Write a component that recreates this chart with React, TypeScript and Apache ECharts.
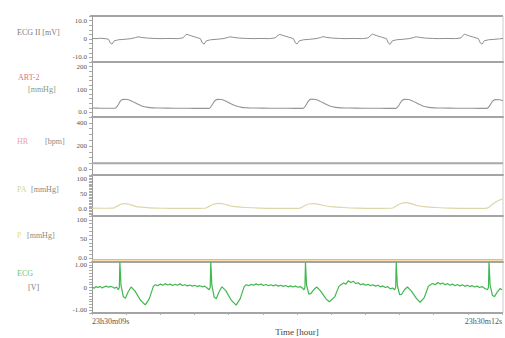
import React, { useEffect, useRef } from "react";
import * as echarts from "echarts";

// ---------- text ----------
const xStartLabel = "23h30m09s";
const xEndLabel = "23h30m12s";
const xAxisTitle = "Time [hour]";

// ---------- tick labels per channel ----------
const ecg2TickValues = [10, 0, -10];
const ecg2TickLabels = ["10.0", "0", "-10.0"];
const artTickValues = [200, 100, 0];
const artTickLabels = ["200", "100", "0.0"];
const hrTickValues = [400, 200, 0];
const hrTickLabels = ["400", "200", "0.0"];
const paTickValues = [100, 50, 0];
const paTickLabels = ["100", "50", "0.0"];
const pTickValues = [100, 50, 0];
const pTickLabels = ["100", "50", "0.0"];
const ecgTickValues = [1, 0, -1];
const ecgTickLabels = ["1.00", "0", "-1.00"];

// ---------- series (time in ms after 23h30m09s, value) ----------
const ecg2Values: [number, number][] = [
  [0, 0.3], [30, 0.2], [60, 0.4], [95, 0.2], [120, -0.1], [134, -2.2], [146, -2.8], [162, -1.0], [194, -0.4],
  [234, -0.2], [284, 0.2], [319, 0.8], [336, 1.2], [359, 0.9], [404, 0.5], [454, 0.3], [504, 0.2], [554, 0.3],
  [624, 0.2], [664, 0.6], [681, 2.0], [693, 2.6], [716, 1.9], [756, 1.0], [791, 0.2], [806, -2.2], [818, -2.8],
  [834, -1.0], [866, -0.4], [906, -0.2], [956, 0.2], [991, 0.8], [1008, 1.2], [1031, 0.9], [1076, 0.5], [1126, 0.3],
  [1176, 0.2], [1226, 0.3], [1296, 0.2], [1336, 0.6], [1358, 2.0], [1370, 2.5], [1395, 1.9], [1435, 1.0], [1470, 0.2],
  [1485, -2.2], [1497, -2.7], [1513, -1.0], [1545, -0.4], [1585, -0.2], [1635, 0.2], [1670, 0.8], [1687, 1.3],
  [1710, 0.9], [1755, 0.5], [1805, 0.3], [1855, 0.2], [1905, 0.3], [1975, 0.2], [2015, 0.6], [2037, 2.1], [2049, 2.7],
  [2074, 1.9], [2114, 1.0], [2149, 0.2], [2164, -2.3], [2176, -2.9], [2192, -1.0], [2224, -0.4], [2264, -0.2],
  [2314, 0.2], [2349, 0.8], [2366, 1.2], [2389, 0.9], [2434, 0.5], [2484, 0.3], [2534, 0.2], [2584, 0.3], [2654, 0.2],
  [2694, 0.6], [2708, 2.0], [2720, 2.6], [2745, 1.9], [2785, 1.0], [2820, 0.2], [2835, -2.2], [2847, -2.8],
  [2863, -1.0], [2895, -0.4], [2935, -0.2], [2975, 0.1], [3000, 0.3],
];

const artValues: [number, number][] = [
  [0, 19], [60, 18.5], [120, 18], [168, 18], [188, 30], [208, 50], [228, 57], [258, 56], [288, 50], [328, 38],
  [368, 27], [408, 22], [448, 20], [498, 19], [600, 18.5], [700, 18], [800, 17.5], [854, 17.5], [874, 30], [894, 49],
  [914, 57], [944, 56], [974, 50], [1014, 38], [1054, 28], [1094, 22], [1134, 20], [1184, 19], [1300, 18.5],
  [1420, 18], [1540, 17.5], [1560, 30], [1580, 50], [1600, 58], [1630, 56], [1660, 50], [1700, 38], [1740, 27],
  [1780, 22], [1820, 20], [1870, 19], [1980, 18.5], [2100, 18], [2219, 17.5], [2239, 30], [2259, 49], [2279, 57],
  [2309, 56], [2339, 50], [2379, 38], [2419, 27], [2459, 22], [2499, 20], [2549, 19], [2660, 18.5], [2780, 18],
  [2883, 17.5], [2903, 30], [2923, 48], [2943, 56], [2973, 55], [3000, 51],
];

const hrValues: [number, number][] = [
  [0, 52], [3000, 52],
];

const paValues: [number, number][] = [
  [0, 2], [80, 1.5], [153, 2], [180, 8], [210, 15], [240, 17], [270, 15], [310, 9], [360, 5], [420, 3], [520, 1.5],
  [640, 1], [760, 1], [825, 1.5], [855, 8], [885, 15], [930, 18], [965, 16], [1005, 10], [1060, 6], [1120, 4],
  [1220, 2], [1350, 1], [1450, 1], [1518, 2], [1548, 9], [1578, 16], [1620, 17], [1655, 15], [1700, 10], [1760, 6],
  [1830, 4], [1930, 2], [2060, 1], [2190, 1.5], [2220, 9], [2250, 17], [2290, 21], [2330, 17], [2380, 10], [2440, 6],
  [2510, 4], [2610, 2], [2760, 1], [2883, 2], [2920, 14], [2960, 26], [3000, 34],
];

const pValues: [number, number][] = [
  [0, -4], [3000, -4],
];

const ecgValues: [number, number][] = [
  [0, 0.02], [15, -0.03], [30, 0.04], [45, 0.0], [60, 0.05], [75, -0.02], [90, 0.03], [105, 0.06], [120, 0.01],
  [135, 0.05], [150, 0.02], [165, -0.03], [180, 0.02], [192, -0.1], [200, 0.0], [204, 1.12], [212, 0.1], [229, -0.4],
  [244, -0.48], [264, -0.2], [286, 0.02], [314, -0.15], [354, -0.55], [389, -0.77], [419, -0.5], [449, 0.05],
  [464, 0.12], [482, 0.08], [500, 0.15], [518, 0.1], [536, 0.17], [554, 0.11], [572, 0.15], [590, 0.09], [608, 0.14],
  [626, 0.1], [644, 0.16], [662, 0.09], [680, 0.12], [698, 0.07], [716, 0.11], [734, 0.06], [752, 0.1], [770, 0.04],
  [788, 0.08], [806, 0.03], [824, 0.06], [842, -0.02], [857, -0.1], [865, 0.0], [869, 1.12], [877, 0.1],
  [894, -0.42], [909, -0.5], [929, -0.2], [951, 0.03], [979, -0.14], [1019, -0.56], [1054, -0.78], [1084, -0.5],
  [1114, 0.05], [1129, 0.12], [1147, 0.08], [1165, 0.14], [1183, 0.1], [1201, 0.16], [1219, 0.11], [1237, 0.15],
  [1255, 0.09], [1273, 0.13], [1291, 0.08], [1309, 0.12], [1327, 0.07], [1345, 0.12], [1363, 0.06], [1381, 0.1],
  [1399, 0.05], [1417, 0.09], [1435, 0.03], [1453, 0.07], [1471, 0.02], [1489, 0.06], [1507, 0.01], [1525, 0.04],
  [1540, -0.03], [1550, -0.1], [1558, 0.0], [1562, 1.1], [1570, 0.1], [1587, -0.3], [1602, -0.26], [1622, -0.1],
  [1644, 0.02], [1672, -0.15], [1712, -0.5], [1737, -0.63], [1777, -0.4], [1807, 0.05], [1822, 0.12], [1840, 0.2],
  [1858, 0.15], [1876, 0.3], [1894, 0.22], [1912, 0.28], [1930, 0.17], [1948, 0.21], [1966, 0.12], [1984, 0.16],
  [2002, 0.1], [2020, 0.14], [2038, 0.08], [2056, 0.12], [2074, 0.06], [2092, 0.1], [2110, 0.03], [2128, 0.07],
  [2146, 0.0], [2164, 0.04], [2182, -0.06], [2200, -0.02], [2214, -0.1], [2222, 0.0], [2226, 1.12], [2234, 0.1],
  [2251, -0.32], [2266, -0.3], [2286, -0.1], [2308, 0.02], [2336, -0.15], [2376, -0.5], [2401, -0.65], [2431, -0.45],
  [2461, 0.05], [2476, 0.12], [2494, 0.18], [2512, 0.12], [2530, 0.22], [2548, 0.15], [2566, 0.2], [2584, 0.12],
  [2602, 0.17], [2620, 0.1], [2638, 0.15], [2656, 0.08], [2674, 0.13], [2692, 0.07], [2710, 0.12], [2728, 0.05],
  [2746, 0.1], [2764, 0.04], [2782, 0.08], [2800, 0.02], [2818, 0.06], [2836, 0.0], [2854, 0.04], [2872, -0.03],
  [2893, -0.1], [2901, 0.0], [2905, 1.12], [2913, 0.1], [2930, -0.35], [2945, -0.4], [2965, -0.2], [2985, -0.05],
  [3000, -0.1],
];

const FONT = "'Liberation Serif', 'DejaVu Serif', serif";

export default function App() {
  const ref = useRef<HTMLDivElement>(null);

  useEffect(() => {
    if (!ref.current) return;
    const chart = echarts.init(ref.current, null, { renderer: "svg" });

    const panels = [
      { top: 16, height: 46, min: -12.5, max: 12.5, interval: 2.5, ticks: ecg2TickValues, labels: ecg2TickLabels, data: ecg2Values, color: "#909090", width: 1, smooth: false },
      { top: 62, height: 55, min: -20, max: 220, interval: 20, ticks: artTickValues, labels: artTickLabels, data: artValues, color: "#959595", width: 1.1, smooth: 0.3 },
      { top: 117, height: 58, min: -50, max: 450, interval: 50, ticks: hrTickValues, labels: hrTickLabels, data: hrValues, color: "#a8a8a8", width: 2, smooth: false },
      { top: 175, height: 41, min: -25, max: 115, interval: 5, ticks: paTickValues, labels: paTickLabels, data: paValues, color: "#dcd7a8", width: 1.2, smooth: 0.3 },
      { top: 216, height: 46, min: -10, max: 110, interval: 10, ticks: pTickValues, labels: pTickLabels, data: pValues, color: "#f2bc58", width: 1.5, smooth: false },
      { top: 262, height: 51, min: -1.125, max: 1.125, interval: 0.125, ticks: ecgTickValues, labels: ecgTickLabels, data: ecgValues, color: "#40b84e", width: 1.2, smooth: false },
    ];
    const last = panels.length - 1;

    const option: any = {
      animation: false,
      backgroundColor: "#ffffff",
      grid: panels.map((p) => ({ left: 92, right: 2, top: p.top, height: p.height })),
      xAxis: panels.map((p, i) => ({
        type: "value",
        gridIndex: i,
        min: 0,
        max: 3000,
        interval: 250,
        axisLine: { show: true, onZero: false, lineStyle: { color: "#a4a4a4", width: 2 } },
        axisTick: { show: i === last, length: 2, lineStyle: { color: "#b0b0b0" } },
        splitLine: { show: false },
        axisLabel:
          i === last
            ? {
                show: true,
                formatter: (v: number) => (v === 0 ? xStartLabel : v === 3000 ? xEndLabel : ""),
                alignMinLabel: "left",
                alignMaxLabel: "right",
                fontSize: 8,
                fontFamily: FONT,
                color: "#555555",
                margin: 4,
              }
            : { show: false },
        name: i === last ? xAxisTitle : "",
        nameLocation: "middle",
        nameGap: 14,
        nameTextStyle: { fontSize: 9, fontFamily: FONT, color: "#444444" },
      })),
      yAxis: panels.map((p, i) => ({
        type: "value",
        gridIndex: i,
        min: p.min,
        max: p.max,
        interval: p.interval,
        axisLine: { show: true, lineStyle: { color: "#9a9a9a", width: 1 } },
        axisTick: { show: true, length: 3, lineStyle: { color: "#aaaaaa" } },
        splitLine: { show: false },
        axisLabel: {
          show: true,
          fontSize: 7,
          fontFamily: FONT,
          color: "#555555",
          margin: 5,
          formatter: (v: number) => {
            for (let k = 0; k < p.ticks.length; k++) {
              if (Math.abs(v - p.ticks[k]) < 1e-6) return p.labels[k];
            }
            return "";
          },
        },
      })),
      series: panels.map((p, i) => ({
        type: "line",
        xAxisIndex: i,
        yAxisIndex: i,
        data: p.data,
        showSymbol: false,
        symbol: "none",
        smooth: p.smooth,
        clip: true,
        lineStyle: { color: p.color, width: p.width },
      })),
      graphic: [
        { type: "line", shape: { x1: 90, y1: 16, x2: 503, y2: 16 }, style: { stroke: "#a4a4a4", lineWidth: 2 } },
        { type: "line", shape: { x1: 503, y1: 16, x2: 503, y2: 313 }, style: { stroke: "#cccccc", lineWidth: 1 } },
        { type: "text", x: 17, y: 32, style: { text: "ECG II [mV]", fill: "#857878", font: `8px ${FONT}`, verticalAlign: "middle" } },
        { type: "text", x: 18, y: 77, style: { text: "ART-2", fill: "#e07484", font: `8px ${FONT}`, verticalAlign: "middle" } },
        { type: "text", x: 28, y: 89, style: { text: "[mmHg]", fill: "#8a9878", font: `8px ${FONT}`, verticalAlign: "middle" } },
        { type: "text", x: 17, y: 141, style: { text: "HR", fill: "#f0a0b4", font: `8px ${FONT}`, verticalAlign: "middle" } },
        { type: "text", x: 45, y: 141, style: { text: "[bpm]", fill: "#8a8a8a", font: `8px ${FONT}`, verticalAlign: "middle" } },
        { type: "text", x: 17, y: 189, style: { text: "PA", fill: "#d4d890", font: `8px ${FONT}`, verticalAlign: "middle" } },
        { type: "text", x: 31, y: 189, style: { text: "[mmHg]", fill: "#8a8a80", font: `8px ${FONT}`, verticalAlign: "middle" } },
        { type: "text", x: 17, y: 235, style: { text: "P", fill: "#e6e070", font: `8px ${FONT}`, verticalAlign: "middle" } },
        { type: "text", x: 27, y: 235, style: { text: "[mmHg]", fill: "#8a8a80", font: `8px ${FONT}`, verticalAlign: "middle" } },
        { type: "text", x: 17, y: 273, style: { text: "ECG", fill: "#6cc46c", font: `8px ${FONT}`, verticalAlign: "middle" } },
        { type: "text", x: 28, y: 287, style: { text: "[V]", fill: "#7a7a7a", font: `8px ${FONT}`, verticalAlign: "middle" } },
      ],
    };

    chart.setOption(option);
    return () => {
      chart.dispose();
    };
  }, []);

  return (
    <div
      ref={ref}
      style={{ position: "fixed", left: 0, top: 0, width: 505, height: 338, background: "#fff" }}
    />
  );
}
